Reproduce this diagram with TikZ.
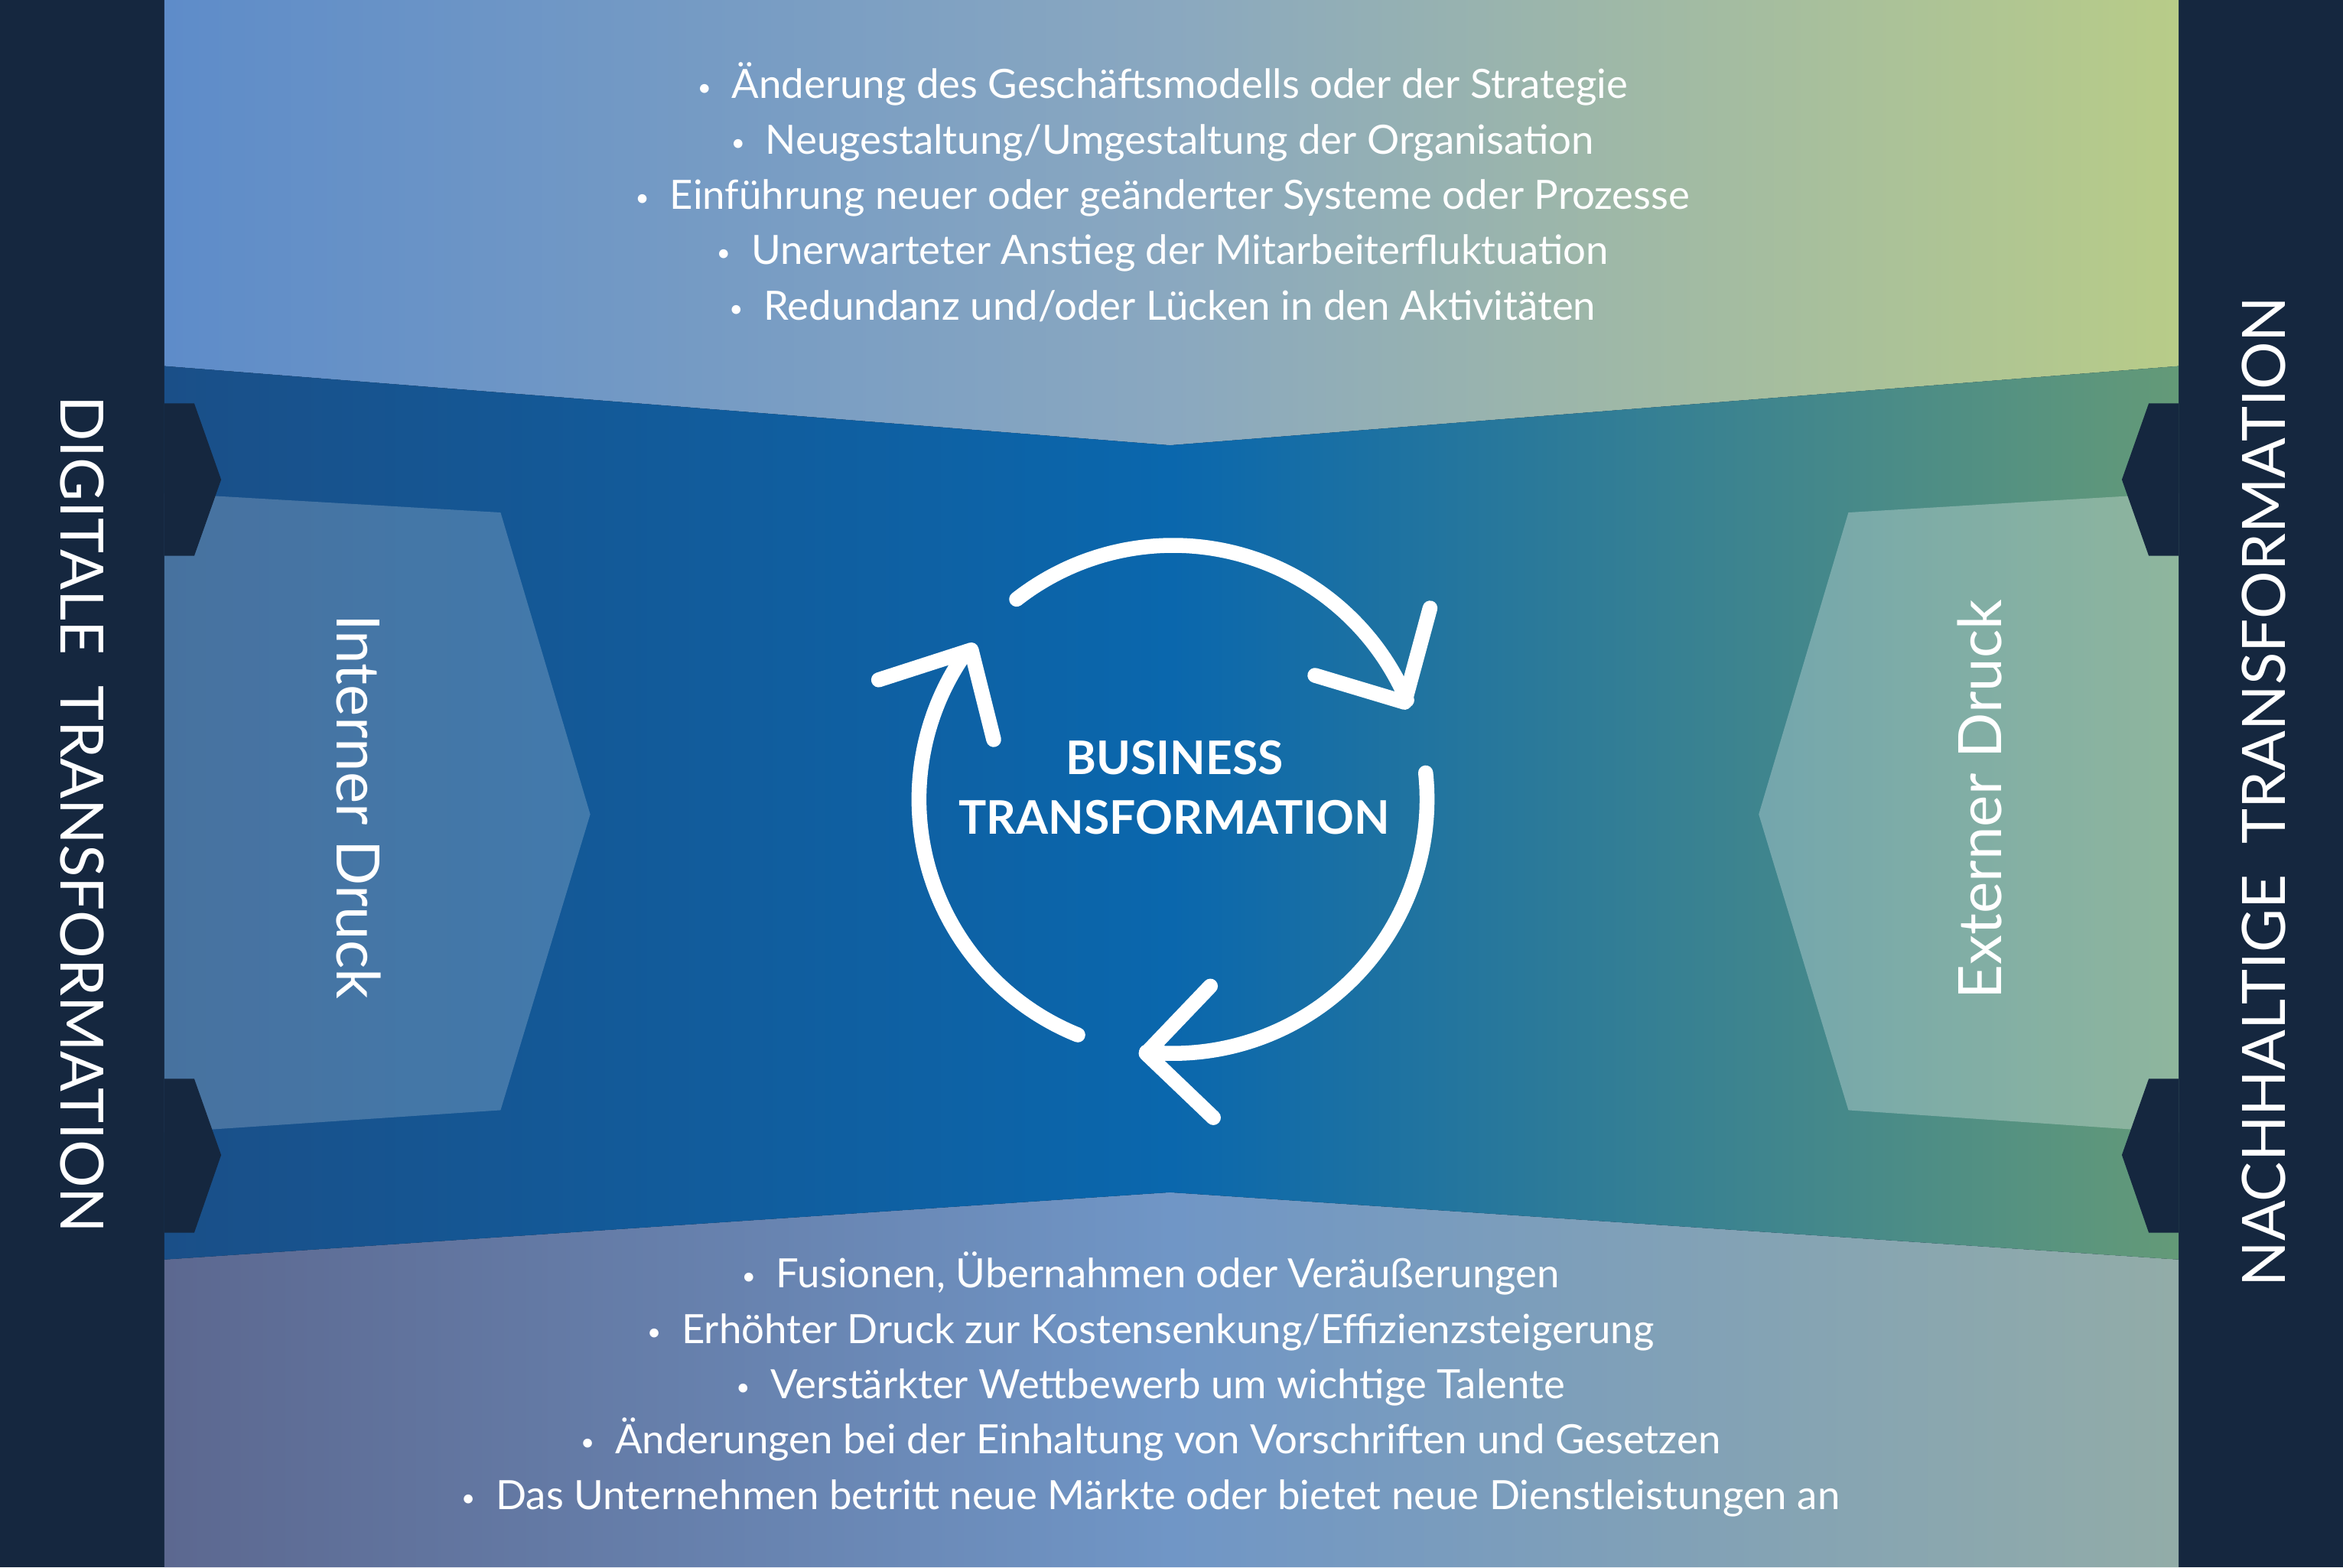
\documentclass[tikz,border=0pt]{standalone}
\usepackage{fontspec}
\setmainfont{Lato}
\definecolor{navy}{HTML}{15273F}
\definecolor{tl}{HTML}{5E8CC9}\definecolor{tr}{HTML}{B8CC88}\definecolor{tm}{HTML}{8AA8C0}
\definecolor{bl}{HTML}{5C6890}\definecolor{br}{HTML}{92ACA8}\definecolor{bm}{HTML}{7096C6}
\definecolor{ml}{HTML}{1A4F88}\definecolor{mr}{HTML}{649A78}\definecolor{mm}{HTML}{0A67AD}
\newcommand{\bt}{\raisebox{2pt}{\fontsize{16}{16}\selectfont•}\ \ }
\begin{document}
\begin{tikzpicture}[x=1pt,y=-1pt,
  bul/.style={text=white,font=\fontsize{27}{30}\selectfont,anchor=base},
  big/.style={text=white,font=\fontsize{40}{44}\selectfont},
  cyc/.style={draw=white,line width=10pt,line cap=round,line join=round}]
\useasboundingbox (0,0) rectangle (1568,1049);
\fill[navy] (0,0) rectangle (1568,1049);
\shade[left color=tl,right color=tr,middle color=tm]
  (110,0)--(1458,0)--(1458,245)--(783,298)--(110,245)--cycle;
\shade[left color=bl,right color=br,middle color=bm]
  (110,843)--(783,798)--(1458,843)--(1458,1049)--(110,1049)--cycle;
\shade[left color=ml,right color=mr,middle color=mm]
  (110,245)--(783,298)--(1458,245)--(1458,843)--(783,798)--(110,843)--cycle;
\fill[white,opacity=0.2] (110,330)--(335,343)--(395,545)--(335,743)--(110,758)--cycle;
\fill[white,opacity=0.28] (1458,330)--(1237,343)--(1177,545)--(1237,743)--(1458,758)--cycle;
\fill[navy] (110,270)--(130,270)--(148,321)--(130,372)--(110,372)--cycle;
\fill[navy] (110,722)--(130,722)--(148,773)--(130,825)--(110,825)--cycle;
\fill[navy] (1458,270)--(1438,270)--(1420,321)--(1438,372)--(1458,372)--cycle;
\fill[navy] (1458,722)--(1438,722)--(1420,773)--(1438,825)--(1458,825)--cycle;
\node[big,rotate=-90] (dt) at (55,545) {DIGITALE\ \ TRANSFORMATION};
\node[big,rotate=90] (nt) at (1515,530) {NACHHALTIGE\ \ TRANSFORMATION};
\node[big,rotate=-90] (id) at (240,540) {Interner Druck};
\node[big,rotate=90] (ed) at (1325,535) {Externer Druck};
\node[bul] (t1) at (778,66) {\bt Änderung des Geschäftsmodells oder der Strategie};
\node[bul] (t2) at (778,103) {\bt Neugestaltung/Umgestaltung der Organisation};
\node[bul] (t3) at (778,140) {\bt Einführung neuer oder geänderter Systeme oder Prozesse};
\node[bul] (t4) at (778,177) {\bt Unerwarteter Anstieg der Mitarbeiterfluktuation};
\node[bul] (t5) at (778,214) {\bt Redundanz und/oder Lücken in den Aktivitäten};
\node[bul] (b1) at (770,862) {\bt Fusionen, Übernahmen oder Veräußerungen};
\node[bul] (b2) at (770,899) {\bt Erhöhter Druck zur Kostensenkung/Effizienzsteigerung};
\node[bul] (b3) at (770,936) {\bt Verstärkter Wettbewerb um wichtige Talente};
\node[bul] (b4) at (770,973) {\bt Änderungen bei der Einhaltung von Vorschriften und Gesetzen};
\node[bul] (b5) at (770,1010) {\bt Das Unternehmen betritt neue Märkte oder bietet neue Dienstleistungen an};
\coordinate (c) at (785,535);
\node[text=white,font=\bfseries\fontsize{31}{40}\selectfont,align=center] (btr) at (786,527) {BUSINESS\\TRANSFORMATION};
\draw[cyc] (c) ++(-128:170) arc[start angle=-128,end angle=-23,radius=170];
\draw[cyc] (880,452)--(940,470)--(957,407);
\draw[cyc] (c) ++(-6:170) arc[start angle=-6,end angle=96,radius=170];
\draw[cyc] (810,660)--(767,705)--(812,748);
\draw[cyc] (c) ++(112:170) arc[start angle=112,end angle=214,radius=170];
\draw[cyc] (588,455)--(650,435)--(665,495);
\end{tikzpicture}
\end{document}
